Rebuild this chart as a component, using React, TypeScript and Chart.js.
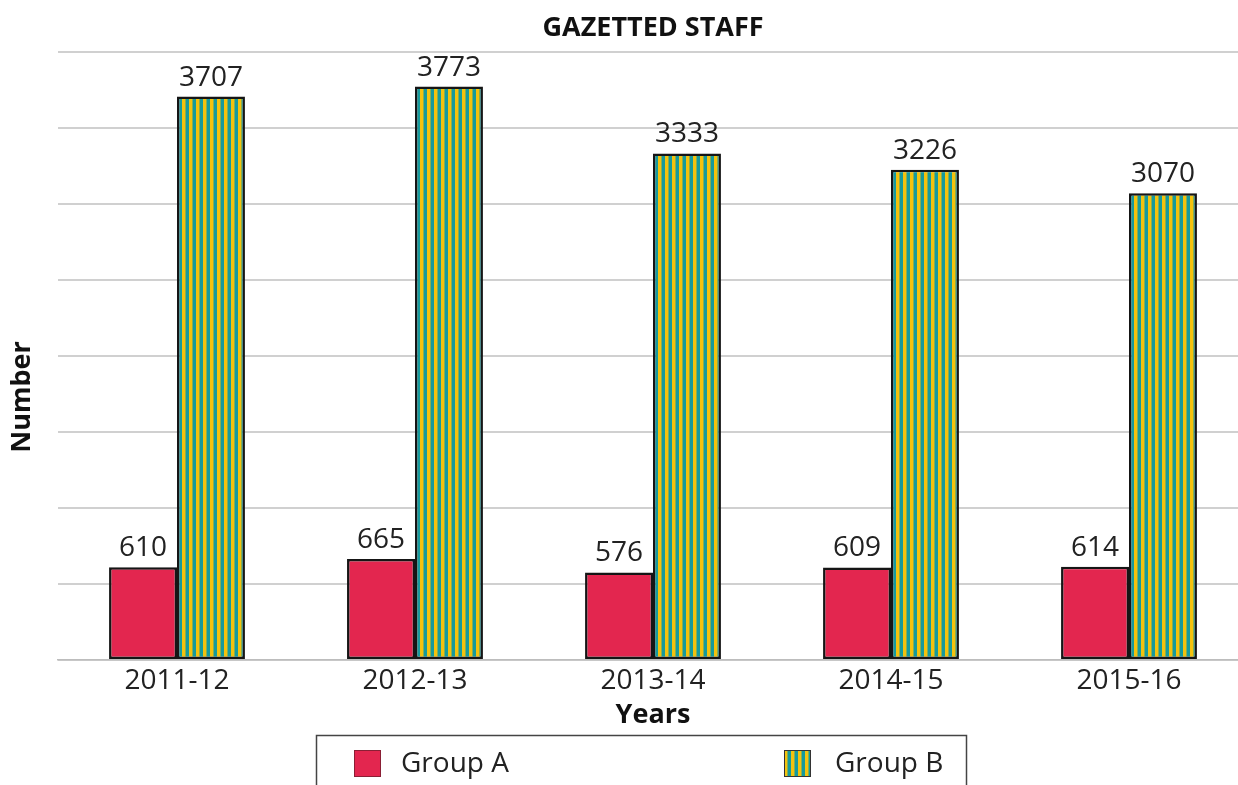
import React, { useEffect, useRef } from "react";
import { Chart, registerables } from "chart.js";

Chart.register(...registerables);

const categories = ["2011-12", "2012-13", "2013-14", "2014-15", "2015-16"];
const groupA = [610, 665, 576, 609, 614];
const groupB = [3707, 3773, 3333, 3226, 3070];
const seriesNames = ["Group A", "Group B"];
const chartTitle = "GAZETTED STAFF";
const xTitle = "Years";
const yTitle = "Number";
const yMax = 4000;
const yStep = 500;

const FONT = "'Open Sans', 'Noto Sans', sans-serif";
const RED = "#e3264f";
const YELLOW = "#f4c20d";
const TEAL = "#169a9c";

function makeStripes(): CanvasPattern | string {
  const c = document.createElement("canvas");
  c.width = 7;
  c.height = 8;
  const x = c.getContext("2d");
  if (!x) return TEAL;
  x.fillStyle = YELLOW;
  x.fillRect(0, 0, 7, 8);
  x.fillStyle = TEAL;
  x.fillRect(3.5, 0, 3.5, 8);
  return x.createPattern(c, "repeat") || TEAL;
}

const titlePlugin = {
  id: "centeredTitle",
  afterDraw(chart: any) {
    const { ctx, chartArea } = chart;
    ctx.save();
    ctx.font = `bold 27px ${FONT}`;
    ctx.fillStyle = "#111";
    ctx.textAlign = "center";
    ctx.textBaseline = "middle";
    ctx.fillText(chartTitle, (chartArea.left + chartArea.right) / 2, 28);
    ctx.translate(22, 397);
    ctx.rotate(-Math.PI / 2);
    ctx.fillText(yTitle, 0, 0);
    ctx.restore();
  },
};

const valueLabels = {
  id: "valueLabels",
  afterDatasetsDraw(chart: any) {
    const { ctx } = chart;
    ctx.save();
    ctx.font = `28px ${FONT}`;
    ctx.fillStyle = "#222";
    ctx.textAlign = "center";
    ctx.textBaseline = "alphabetic";
    chart.data.datasets.forEach((ds: any, i: number) => {
      const meta = chart.getDatasetMeta(i);
      meta.data.forEach((el: any, j: number) => {
        ctx.fillText(String(ds.data[j]), el.x, el.y - 11);
      });
    });
    ctx.restore();
  },
};

const legendBox = {
  id: "legendBox",
  afterDraw(chart: any) {
    const { ctx } = chart;
    const ds = chart.data.datasets;
    ctx.save();
    ctx.strokeStyle = "#444";
    ctx.lineWidth = 1.5;
    ctx.strokeRect(316.5, 735.5, 650, 70);
    const items = [
      { sx: 354, tx: 401 },
      { sx: 784, tx: 835 },
    ];
    items.forEach((it, i) => {
      ctx.fillStyle = ds[i].backgroundColor;
      ctx.fillRect(it.sx, 750, 27, 27);
      ctx.strokeStyle = i === 0 ? "#8a1f35" : "#333";
      ctx.lineWidth = 1;
      ctx.strokeRect(it.sx + 0.5, 750.5, 26, 26);
      ctx.font = `28px ${FONT}`;
      ctx.fillStyle = "#222";
      ctx.textAlign = "left";
      ctx.textBaseline = "middle";
      ctx.fillText(ds[i].label, it.tx, 764);
    });
    ctx.restore();
  },
};

export default function App() {
  const ref = useRef<HTMLCanvasElement | null>(null);

  useEffect(() => {
    if (!ref.current) return;
    const stripes = makeStripes();
    const chart = new Chart(ref.current, {
      type: "bar",
      data: {
        labels: categories,
        datasets: [
          {
            label: seriesNames[0],
            data: groupA,
            backgroundColor: RED,
            borderColor: "#151515",
            borderWidth: 2.5,
            borderSkipped: false,
            categoryPercentage: 0.571,
            barPercentage: 1,
          },
          {
            label: seriesNames[1],
            data: groupB,
            backgroundColor: stripes as any,
            borderColor: "#151515",
            borderWidth: 2.5,
            borderSkipped: false,
            categoryPercentage: 0.571,
            barPercentage: 1,
          },
        ],
      },
      options: {
        responsive: false,
        animation: false,
        layout: { padding: { left: 0, right: 0, top: 52, bottom: 53 } },
        plugins: {
          legend: { display: false },
          tooltip: { enabled: false },
          title: { display: false },
        },
        scales: {
          x: {
            grid: { display: false, drawTicks: false },
            border: { display: true, color: "#bdbdbd", width: 1.5 },
            ticks: { font: { family: FONT, size: 28 }, color: "#222", padding: 4 },
            title: {
              display: true,
              text: xTitle,
              font: { family: FONT, size: 27, weight: "bold" },
              color: "#111",
              padding: { top: 0, bottom: 0 },
            },
            afterFit: (s: any) => {
              s.height = 72;
            },
          },
          y: {
            min: 0,
            max: yMax,
            ticks: { display: false, stepSize: yStep },
            grid: { color: "#d0d0d0", lineWidth: 2, drawTicks: false },
            border: { display: false },
            title: { display: false },
            afterFit: (s: any) => {
              s.width = 58;
            },
          },
        },
      },
      plugins: [titlePlugin, valueLabels, legendBox],
    });
    return () => chart.destroy();
  }, []);

  return (
    <div style={{ position: "absolute", left: 0, top: 0, width: 1238, height: 785, overflow: "hidden", background: "#fff" }}>
      <canvas ref={ref} width={1248} height={785} style={{ display: "block" }} />
    </div>
  );
}
